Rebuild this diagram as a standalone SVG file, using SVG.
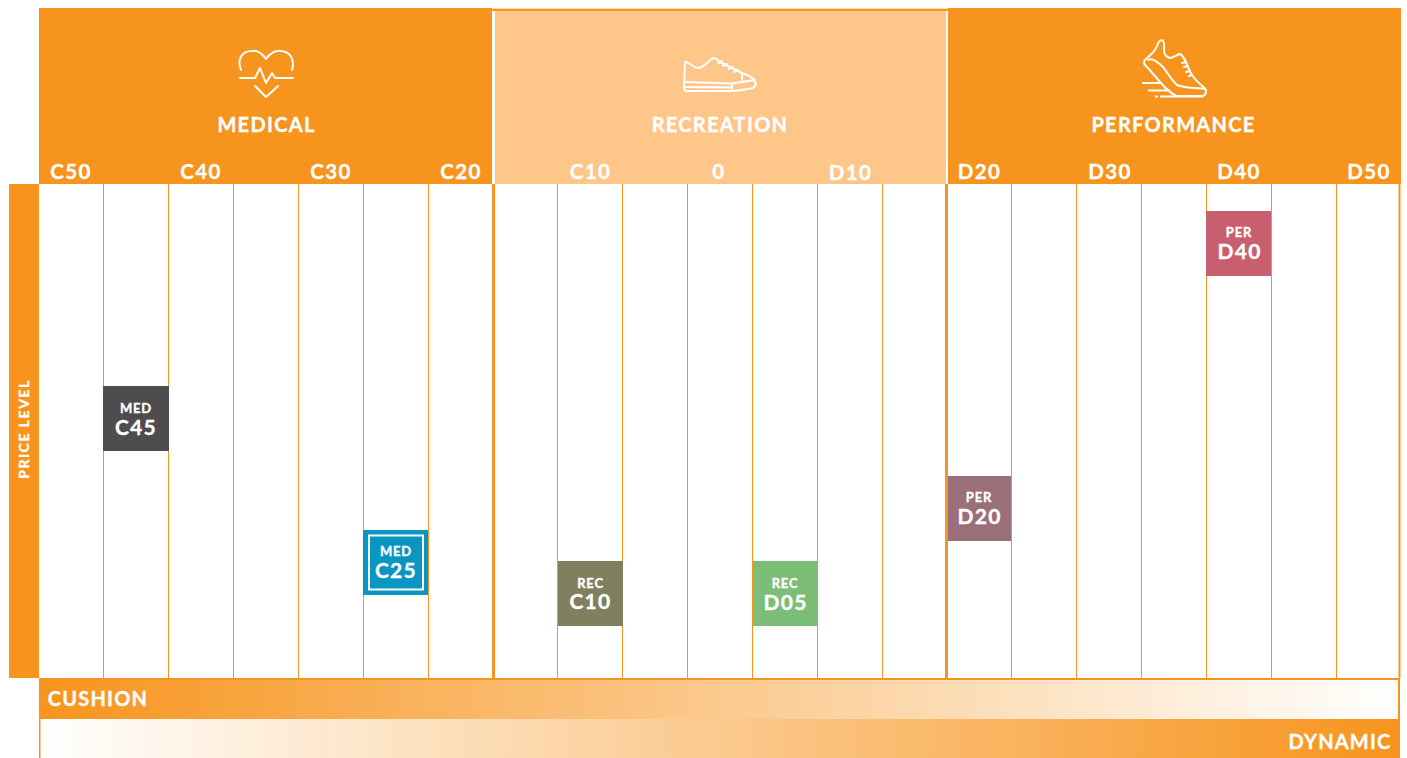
<svg xmlns="http://www.w3.org/2000/svg" width="1407" height="758" viewBox="0 0 1407 758">
<style>
text{font-family:"Lato","Liberation Sans",sans-serif;font-weight:700;fill:#fff;text-anchor:middle;stroke:#fff;stroke-width:.35px}
.cat{font-size:20px;letter-spacing:1.3px}
.tick{font-size:20.5px;letter-spacing:1.4px}
.s{font-size:13px;letter-spacing:.8px}
.b{font-size:21px;letter-spacing:1.300px}
.v{stroke:#f7941d;stroke-width:1;fill:none}
.t{stroke:#f7941d;stroke-width:3;fill:none}
.i{stroke:#fff;stroke-width:2;fill:none;stroke-linecap:round;stroke-linejoin:round}
</style>
<defs>
<linearGradient id="g1"><stop offset="0" stop-color="#f7941d"/><stop offset="1" stop-color="#fff"/></linearGradient>
<linearGradient id="g2"><stop offset="0" stop-color="#fff"/><stop offset="1" stop-color="#f7941d"/></linearGradient>
</defs>
<rect width="1407" height="758" fill="#fff"/>
<g id="grid">
<path class="v" d="M103.500 184V678M168.500 184V678M233.500 184V678M298.500 184V678M363.500 184V678M428.500 184V678M557.500 184V678M622.500 184V678M687.500 184V678M752.500 184V678M817.500 184V678M882.500 184V678M1011.500 184V678M1076.500 184V678M1141.500 184V678M1206.500 184V678M1271.500 184V678M1336.500 184V678"/>
<path class="t" d="M493.500 184V678M946.500 184V678"/>
<path d="M1399.500 184V678" stroke="#f7941d" stroke-width="2"/>
</g>
<g id="medical">
<rect x="39" y="8" width="453" height="176" fill="#f7941d"/>
<path class="i" d="M241 70C237 60 241 51 252 51C258 50 263 55 266 59C269 55 274 50 281 51C291 52 295 60 292 70"/>
<path class="i" d="M240 78H255L260 68L266 83L272 73L275 78H293"/>
<path class="i" d="M255 86L266 97L278 86"/>
<text class="cat" x="266.500" y="132">MEDICAL</text>
</g>
<g id="recreation">
<rect x="495" y="11" width="451" height="173" fill="#fec689"/>
<rect x="492" y="8" width="456" height="1" fill="#fcd9ae"/>
<rect x="492" y="9" width="456" height="2" fill="#f7941d"/>
<path class="i" d="M685 62C688 61 692 67 698 68C704 68 708 61 713 58C716 58 718 60 720 62L742 73C749 75 755 79 756 84C755 88 750 89 747 89C742 90 737 91 732 91H687C685 91 684 90 684 88Z"/>
<path class="i" d="M685 82L732 83.500L742 82L742 73M742 82L755 80M685 87L732 87.500M732 84V91"/>
<path class="i" d="M718 63L722 61M723 66L727 64M729 69L733 67M734 72L738 70"/>
<text class="cat" x="720" y="132">RECREATION</text>
</g>
<g id="performance">
<rect x="948" y="8" width="453" height="176" fill="#f7941d"/>
<path class="i" d="M1162 40C1159 40 1158 43 1157 46C1155 51 1152 54 1147 58C1144 60 1143 63 1145 65C1150 70 1155 76 1160 82C1166 89 1171 94 1177 96L1203 96C1206 95 1206 92 1206 90C1205 87 1199 84 1196 80C1192 76 1190 72 1188 67C1186 62 1184 56 1180 54C1176 55 1173 58 1170 58C1166 57 1164 55 1164 50C1164 46 1165 41 1162 40Z"/>
<path class="i" d="M1148 60C1152 57 1158 62 1163 67C1168 73 1172 81 1177 85C1184 88 1196 88 1205 89"/>
<path class="i" d="M1182 63L1186 62M1184 67L1188 66M1186 72L1190 71M1189 76L1192 75"/>
<path d="M1142 83H1161M1148 90.500H1170M1155 96.500H1158M1160 96.500H1203" stroke="#fff" stroke-width="2" fill="none"/>
<text class="cat" x="1173.500" y="132">PERFORMANCE</text>
</g>
<g id="ticks">
<text class="tick" x="71" y="179">C50</text>
<text class="tick" x="201" y="179">C40</text>
<text class="tick" x="331" y="179">C30</text>
<text class="tick" x="461" y="179">C20</text>
<text class="tick" x="590.500" y="179">C10</text>
<text class="tick" x="719" y="179">0</text>
<text class="tick" x="850.500" y="180">D10</text>
<text class="tick" x="979.500" y="179">D20</text>
<text class="tick" x="1110" y="179">D30</text>
<text class="tick" x="1239" y="179">D40</text>
<text class="tick" x="1369" y="179">D50</text>
</g>
<g id="price-level">
<rect x="9" y="184" width="30" height="494" fill="#f7941d"/>
<text transform="translate(29 429) rotate(-90)" font-size="14" letter-spacing="1.500">PRICE LEVEL</text>
</g>
<g id="cushion">
<rect x="39" y="678" width="1361" height="41" fill="url(#g1)"/>
<rect x="39" y="678" width="1361" height="2" fill="#f7941d"/>
<rect x="1398" y="678" width="2" height="41" fill="#f7941d"/>
<text x="98" y="706" font-size="20" letter-spacing="1.200">CUSHION</text>
</g>
<g id="dynamic">
<rect x="39" y="719" width="1361" height="39" fill="url(#g2)"/>
<rect x="39" y="719" width="1.500" height="39" fill="#f7941d"/>
<text x="1340" y="749" font-size="20" letter-spacing="1.200">DYNAMIC</text>
</g>
<g id="med-c45"><rect x="103" y="386" width="66" height="65" fill="#4d4d4f"/><text class="s" x="136" y="413">MED</text><text class="b" x="136" y="435">C45</text></g>
<g id="med-c25"><rect x="363" y="530" width="65" height="65" fill="#0996c2"/><rect x="369" y="535.500" width="54" height="54" fill="none" stroke="#fff" stroke-width="2"/><text class="s" x="396" y="556">MED</text><text class="b" x="396" y="578">C25</text></g>
<g id="rec-c10"><rect x="558" y="561" width="65" height="65" fill="#808060"/><text class="s" x="590.500" y="588">REC</text><text class="b" x="590.500" y="609">C10</text></g>
<g id="rec-d05"><rect x="753" y="561" width="64" height="65" fill="#7cbd78"/><text class="s" x="785" y="588">REC</text><text class="b" x="785.500" y="610">D05</text></g>
<g id="per-d20"><rect x="948" y="476" width="63" height="65" fill="#9b6f79"/><text class="s" x="979" y="502">PER</text><text class="b" x="979.500" y="524">D20</text></g>
<g id="per-d40"><rect x="1206" y="211" width="65" height="65" fill="#c95f6e"/><text class="s" x="1239" y="237">PER</text><text class="b" x="1239.500" y="259">D40</text></g>
</svg>
